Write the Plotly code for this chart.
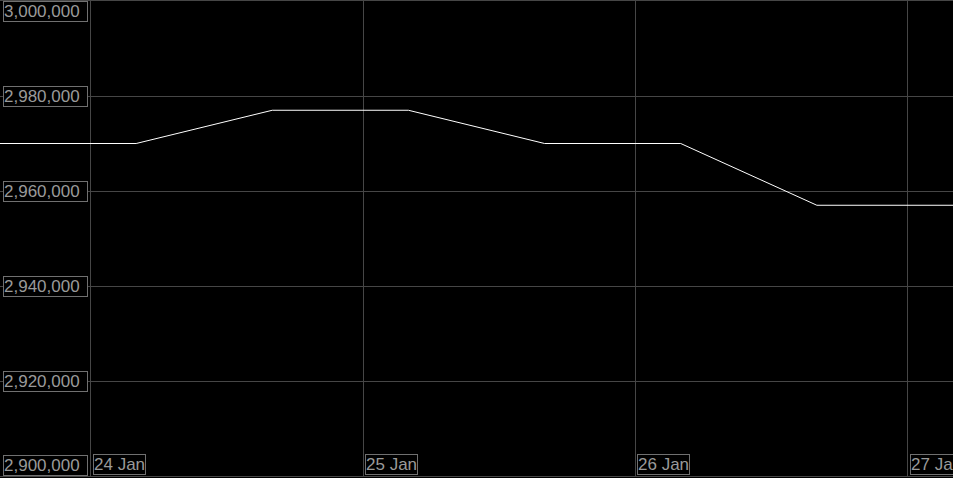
import plotly.graph_objects as go

# price series, 12-hourly samples
times = ["2024-01-23 16:00", "2024-01-24 04:00", "2024-01-24 16:00", "2024-01-25 04:00",
         "2024-01-25 16:00", "2024-01-26 04:00", "2024-01-26 16:00", "2024-01-27 04:00"]
values = [2970000, 2970000, 2977000, 2977000, 2970000, 2970000, 2957000, 2957000]

y_ticks = [2900000, 2920000, 2940000, 2960000, 2980000, 3000000]
x_ticks = ["2024-01-24", "2024-01-25", "2024-01-26", "2024-01-27"]
x_tick_labels = ["24 Jan", "25 Jan", "26 Jan", "27 Jan"]

GRID = "#464646"
LABEL = "#9a9a9a"
BOX = "#707070"
FONT = dict(family="Liberation Sans, Arial, sans-serif", size=17, color=LABEL)

fig = go.Figure(go.Scatter(
    x=times, y=values, mode="lines",
    line=dict(color="#ffffff", width=1),
    hoverinfo="skip",
))

annotations = []
for v in y_ticks:
    if v == y_ticks[-1]:
        anchor = "top"
    elif v == y_ticks[0]:
        anchor = "bottom"
    else:
        anchor = "middle"
    annotations.append(dict(
        x=0, xref="paper", y=v, yref="y", xanchor="left", yanchor=anchor,
        xshift=3, text=f"{v:,}", showarrow=False, font=FONT,
        width=83, align="left",
        bgcolor="#000000", bordercolor=BOX, borderwidth=1, borderpad=0,
    ))
for d, lab in zip(x_ticks, x_tick_labels):
    annotations.append(dict(
        x=d, xref="x", y=0, yref="paper", xanchor="left", yanchor="bottom",
        xshift=2, yshift=1, text=lab, showarrow=False, font=FONT,
        bgcolor="#000000", bordercolor=BOX, borderwidth=1, borderpad=0,
    ))

fig.update_layout(
    width=953, height=478,
    paper_bgcolor="#000000", plot_bgcolor="#000000",
    margin=dict(l=0, r=0, t=1, b=2),
    showlegend=False,
    annotations=annotations,
)
fig.update_xaxes(
    range=["2024-01-23 16:00", "2024-01-27 04:00"],
    tickvals=x_ticks, showticklabels=False,
    showgrid=True, gridcolor=GRID, gridwidth=1, zeroline=False,
    showline=True, linecolor=GRID, linewidth=1, mirror=True,
)
fig.update_yaxes(
    range=[2900000, 3000000],
    tickvals=y_ticks, showticklabels=False,
    showgrid=True, gridcolor=GRID, gridwidth=1, zeroline=False,
    showline=False,
)

# drop the default page margin so the figure fills the window
fig.write_html("out.html", config={"displayModeBar": False},
               post_script="document.body.style.margin='0';")
